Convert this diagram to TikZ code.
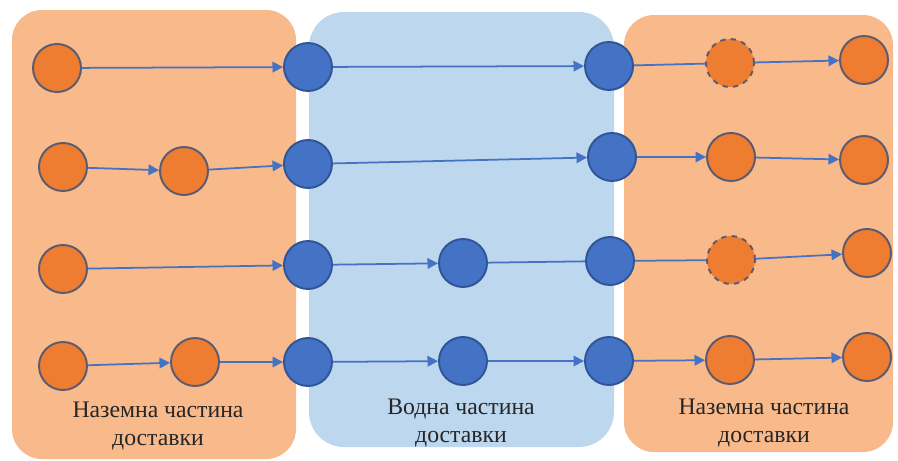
\documentclass[tikz,border=0pt]{standalone}
\usepackage{fontspec}
\setmainfont{LiberationSerif}[Extension=.ttf, UprightFont=*-Regular, BoldFont=*-Bold]
\usepackage{tikz}
\usetikzlibrary{arrows.meta,positioning}
\definecolor{landbg}{HTML}{F8B98B}
\definecolor{waterbg}{HTML}{BDD7EE}
\definecolor{landpt}{HTML}{EE7D31}
\definecolor{landrim}{HTML}{5A5A70}
\definecolor{waterpt}{HTML}{4472C4}
\definecolor{waterrim}{HTML}{2F5597}
\definecolor{link}{HTML}{4472C4}
\tikzset{
  % one point style per part of the route
  lpt/.style={circle, draw=landrim, fill=landpt, line width=1.1pt, minimum size=0.96cm, inner sep=0pt},
  wpt/.style={circle, draw=waterrim, fill=waterpt, line width=1.1pt, minimum size=0.96cm, inner sep=0pt},
  skip/.style={lpt, dashed},
  arr/.style={-{Triangle[length=6pt,width=6pt]}, line width=1pt, color=link},
  seg/.style={line width=1pt, color=link},
  partname/.style={font=\fontsize{13.5}{16}\selectfont, align=center, text=black!85},
}

\begin{document}
\begin{tikzpicture}[x=0.02cm, y=-0.02cm]
  \useasboundingbox (0,0) rectangle (898,460);
  \fill[white] (0,0) rectangle (898,460);

  % the three parts of the route
  \fill[landbg, rounded corners=0.6cm]  (12,10)  rectangle (296,459);
  \fill[waterbg, rounded corners=0.7cm] (309,12) rectangle (614,447);
  \fill[landbg, rounded corners=0.6cm]  (624,15) rectangle (893,452);

  % row 1
  \node[lpt]  (o11) at (57,68)  {};
  \node[wpt]  (b11) at (308,67) {};
  \node[wpt]  (b12) at (609,66) {};
  \node[skip] (d11) at (730,63) {};
  \node[lpt]  (o12) at (864,60) {};
  \draw[arr] (o11) -- (b11);
  \draw[arr] (b11) -- (b12);
  \draw[seg] (b12) -- (d11);
  \draw[arr] (d11) -- (o12);

  % row 2
  \node[lpt] (o21) at (63,167)  {};
  \node[lpt] (o22) at (184,171) {};
  \node[wpt] (b21) at (308,164) {};
  \node[wpt] (b22) at (612,157) {};
  \node[lpt] (o23) at (731,157) {};
  \node[lpt] (o24) at (864,160) {};
  \draw[arr] (o21) -- (o22);
  \draw[arr] (o22) -- (b21);
  \draw[arr] (b21) -- (b22);
  \draw[arr] (b22) -- (o23);
  \draw[arr] (o23) -- (o24);

  % row 3
  \node[lpt]  (o31) at (63,269)  {};
  \node[wpt]  (b31) at (308,265) {};
  \node[wpt]  (b32) at (463,263) {};
  \node[wpt]  (b33) at (610,261) {};
  \node[skip] (d31) at (731,260) {};
  \node[lpt]  (o32) at (867,253) {};
  \draw[arr] (o31) -- (b31);
  \draw[arr] (b31) -- (b32);
  \draw[seg] (b32) -- (b33);
  \draw[seg] (b33) -- (d31);
  \draw[arr] (d31) -- (o32);

  % row 4
  \node[lpt] (o41) at (63,366)  {};
  \node[lpt] (o42) at (195,362) {};
  \node[wpt] (b41) at (308,362) {};
  \node[wpt] (b42) at (463,361) {};
  \node[wpt] (b43) at (609,361) {};
  \node[lpt] (o43) at (730,360) {};
  \node[lpt] (o44) at (867,357) {};
  \draw[arr] (o41) -- (o42);
  \draw[arr] (o42) -- (b41);
  \draw[arr] (b41) -- (b42);
  \draw[arr] (b42) -- (b43);
  \draw[arr] (b43) -- (o43);
  \draw[arr] (o43) -- (o44);

  % captions
  \node[partname] (landin)  at (158,426) {Наземна частина\\доставки};
  \node[partname] (water)   at (461,423) {Водна частина\\доставки};
  \node[partname] (landout) at (764,423) {Наземна частина\\доставки};
\end{tikzpicture}
\end{document}
